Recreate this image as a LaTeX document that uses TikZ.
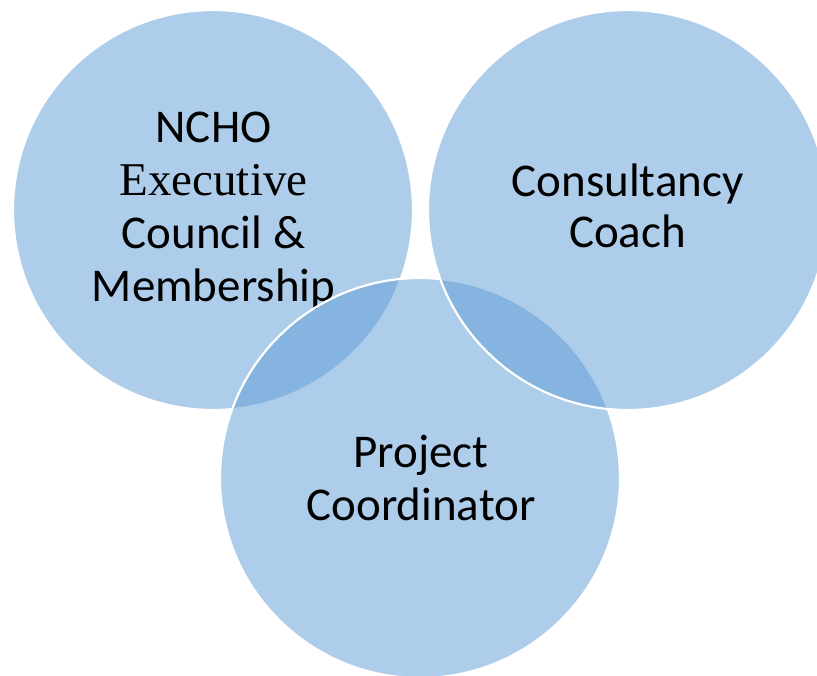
\documentclass[tikz,border=0pt]{standalone}
\usepackage{fontspec}
\setmainfont{Carlito}
\newfontfamily\serifword{Liberation Serif}
\definecolor{vennblue}{HTML}{5B9BD5}
\begin{document}
\begin{tikzpicture}[x=1pt,y=-1pt,
  venn/.style={circle, minimum size=400pt, inner sep=0pt, fill=vennblue,
    fill opacity=0.5, draw=white, draw opacity=1, line width=2.2pt},
  % multi-line labels: the base anchor sits on the last line's baseline
  vennlabel/.style={align=center, anchor=base, text=black, inner sep=0pt,
    font=\fontsize{47}{53}\selectfont}]
\useasboundingbox (0,0) rectangle (817,676);
\clip (0,0) rectangle (817,676);
% left circle and its label, partly covered by the lower circle
\node[venn] (ncho) at (213,210) {};
\node[vennlabel] (nchotext) at (213.5,302)
  {NCHO\\{\serifword Executive}\\Council \&\\Membership};
% lower circle
\node[venn] (coord) at (420,478) {};
% right circle
\node[venn] (coach) at (628,210) {};
\node[vennlabel, font=\fontsize{47}{51}\selectfont] (coachtext) at (627.5,248)
  {Consultancy\\Coach};
\node[vennlabel] (coordtext) at (421,520) {Project\\Coordinator};
\end{tikzpicture}
\end{document}
